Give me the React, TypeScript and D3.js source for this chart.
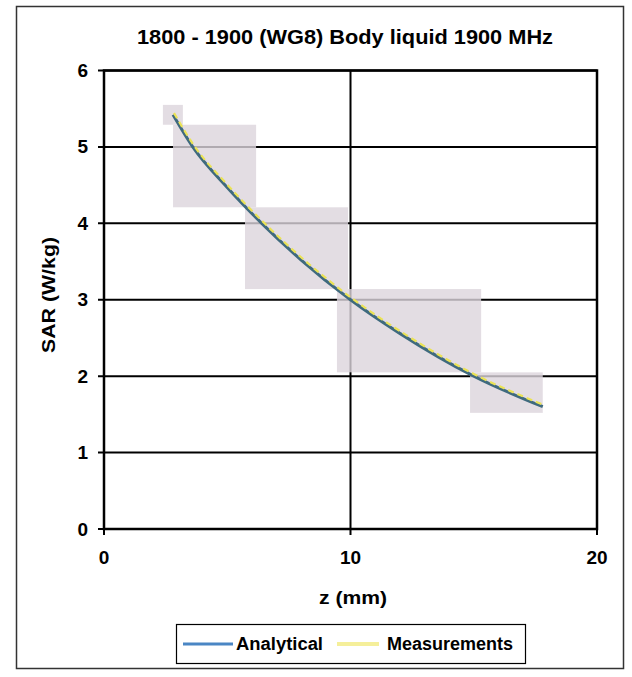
import React from "react";
import * as d3 from "d3";

// ---- data ----
const zValues = [2.8, 3.6, 5, 6.4, 8, 10, 12, 15, 17.8];
const analyticalSAR = [5.42, 5.0, 4.47, 4.0, 3.52, 3.0, 2.56, 2.0, 1.6];
const measuredSAR = [5.43, 5.01, 4.48, 4.01, 3.53, 3.01, 2.57, 2.01, 1.61];
const xTicks = [0, 10, 20];
const yTicks = [0, 1, 2, 3, 4, 5, 6];
// shaded boxes seen on the scan, in data units: [z0, z1, sar0, sar1]
const boxZ0 = [2.39, 2.8, 5.72, 9.45, 14.85];
const boxZ1 = [3.2, 6.17, 9.9, 15.3, 17.8];
const boxS0 = [5.29, 4.21, 3.14, 2.05, 1.52];
const boxS1 = [5.55, 5.29, 4.21, 3.14, 2.05];
const titleText = "1800 - 1900 (WG8) Body liquid 1900 MHz";
const xTitle = "z (mm)";
const yTitle = "SAR (W/kg)";
const seriesNames = ["Analytical", "Measurements"];

const W = 632;
const H = 677;
const FONT = "'Liberation Sans', Arial, sans-serif";

export default function App() {
  const x = d3.scaleLinear().domain([0, 20]).range([104, 597]);
  const y = d3.scaleLinear().domain([0, 6]).range([529, 70.5]);

  const ana = zValues.map((z, i) => [z, analyticalSAR[i]] as [number, number]);
  const mea = zValues.map((z, i) => [z, measuredSAR[i]] as [number, number]);
  const line = d3
    .line<[number, number]>()
    .x((d) => x(d[0]))
    .y((d) => y(d[1]))
    .curve(d3.curveMonotoneX);

  const [x0, x1] = x.range();
  const [yb, yt] = y.range();

  return (
    <svg
      width={W}
      height={H}
      style={{ position: "absolute", left: 0, top: 0, background: "#fff" }}
    >
      <rect x={0} y={0} width={W} height={H} fill="#fff" />
      {/* outer frame */}
      <rect x={16.5} y={6.5} width={607} height={662} fill="none" stroke="#333" strokeWidth={1.5} />

      {/* title */}
      <text
        x={345}
        y={44}
        textAnchor="middle"
        fontFamily={FONT}
        fontWeight="bold"
        fontSize={20}
        textLength={416}
        lengthAdjust="spacingAndGlyphs"
        fill="#000"
      >
        {titleText}
      </text>

      {/* gridlines */}
      {yTicks.map((t) => (
        <line key={"gy" + t} x1={x0 - 6} x2={x1} y1={y(t)} y2={y(t)} stroke="#000" strokeWidth={2} />
      ))}
      {xTicks.map((t) => (
        <line key={"gx" + t} x1={x(t)} x2={x(t)} y1={yt} y2={yb + 6} stroke="#000" strokeWidth={2} />
      ))}
      <rect x={x0} y={yt} width={x1 - x0} height={yb - yt} fill="none" stroke="#000" strokeWidth={2.5} />

      {/* shaded boxes */}
      {boxZ0.map((z0, i) => (
        <rect
          key={"b" + i}
          x={x(z0)}
          y={y(boxS1[i])}
          width={x(boxZ1[i]) - x(z0)}
          height={y(boxS0[i]) - y(boxS1[i])}
          fill="#dcd4dc"
          opacity={0.8}
        />
      ))}

      {/* curves */}
      <path d={line(ana) || ""} fill="none" stroke="#3f6a7e" strokeWidth={3} />
      <path
        d={line(mea) || ""}
        fill="none"
        stroke="#ebe356"
        strokeWidth={2.2}
        strokeDasharray="6 4"
        transform="translate(1,-1)"
      />

      {/* y tick labels */}
      {yTicks.map((t) => (
        <text
          key={"ly" + t}
          x={88}
          y={y(t) + 6.5}
          textAnchor="end"
          fontFamily={FONT}
          fontWeight="bold"
          fontSize={19}
        >
          {t}
        </text>
      ))}
      {/* x tick labels */}
      {xTicks.map((t) => (
        <text
          key={"lx" + t}
          x={x(t)}
          y={564}
          textAnchor="middle"
          fontFamily={FONT}
          fontWeight="bold"
          fontSize={19}
        >
          {t}
        </text>
      ))}

      {/* axis titles */}
      <text
        x={353}
        y={604}
        textAnchor="middle"
        fontFamily={FONT}
        fontWeight="bold"
        fontSize={18}
        textLength={68}
        lengthAdjust="spacingAndGlyphs"
      >
        {xTitle}
      </text>
      <text
        transform="translate(55,295) rotate(-90)"
        textAnchor="middle"
        fontFamily={FONT}
        fontWeight="bold"
        fontSize={18}
        textLength={116}
        lengthAdjust="spacingAndGlyphs"
      >
        {yTitle}
      </text>

      {/* legend */}
      <rect x={176.5} y={624.5} width={349} height={39} fill="#fff" stroke="#000" strokeWidth={1.2} />
      <line x1={183} x2={233} y1={644} y2={644} stroke="#4a86c4" strokeWidth={3} />
      <text x={236} y={650} fontFamily={FONT} fontWeight="bold" fontSize={18} textLength={87} lengthAdjust="spacingAndGlyphs">
        {seriesNames[0]}
      </text>
      <line x1={337} x2={379} y1={644} y2={644} stroke="#f5ef9a" strokeWidth={4} />
      <text x={387} y={650} fontFamily={FONT} fontWeight="bold" fontSize={18} textLength={126} lengthAdjust="spacingAndGlyphs">
        {seriesNames[1]}
      </text>
    </svg>
  );
}
